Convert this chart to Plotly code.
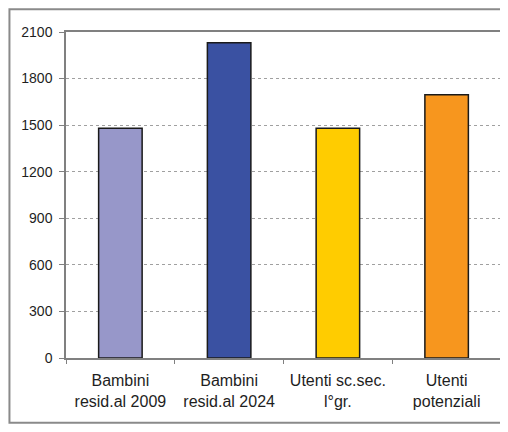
import plotly.graph_objects as go

categories = ["Bambini<br>resid.al 2009", "Bambini<br>resid.al 2024",
              "Utenti sc.sec.<br>l°gr.", "Utenti<br>potenziali"]
values = [1480, 2030, 1480, 1695]
bar_colors = ["#9797C9", "#3A51A2", "#FFCC00", "#F7961E"]
y_ticks = [0, 300, 600, 900, 1200, 1500, 1800, 2100]

fig = go.Figure()

fig.add_trace(go.Bar(
    x=categories,
    y=values,
    marker=dict(color=bar_colors, line=dict(color="#1a1a1a", width=1.5)),
    width=0.4,
    hoverinfo="x+y"
))

# the page body adds an 8px margin, so the figure is a bit smaller than the window
fig.update_layout(
    width=500,
    height=424,
    margin=dict(l=58, r=5, t=24, b=74),
    paper_bgcolor="white",
    plot_bgcolor="white",
    showlegend=False,
    font=dict(family="Liberation Sans, Arial, sans-serif", color="#1e1e1e"),
    shapes=[dict(
        type="rect", xref="paper", yref="paper",
        x0=-0.130, x1=1.03, y0=-0.199, y1=1.07,
        line=dict(color="#8a8a8a", width=2), layer="below"
    )]
)

fig.update_xaxes(
    showline=True, linecolor="#808080", linewidth=1.5, mirror=True,
    ticks="outside", tickson="boundaries", ticklen=4, tickcolor="#808080",
    tickfont=dict(size=16, color="#1e1e1e"),
    ticklabelstandoff=7,
    showgrid=False
)

fig.update_yaxes(
    range=[0, 2100], tickvals=y_ticks,
    showline=True, linecolor="#808080", linewidth=1.5, mirror=True,
    ticks="outside", ticklen=5, tickcolor="#808080",
    tickfont=dict(size=14, color="#1e1e1e"),
    ticklabelstandoff=4,
    showgrid=True, gridcolor="#a0a0a0", griddash="dot", gridwidth=1,
    zeroline=False
)

fig.write_html("out.html")
